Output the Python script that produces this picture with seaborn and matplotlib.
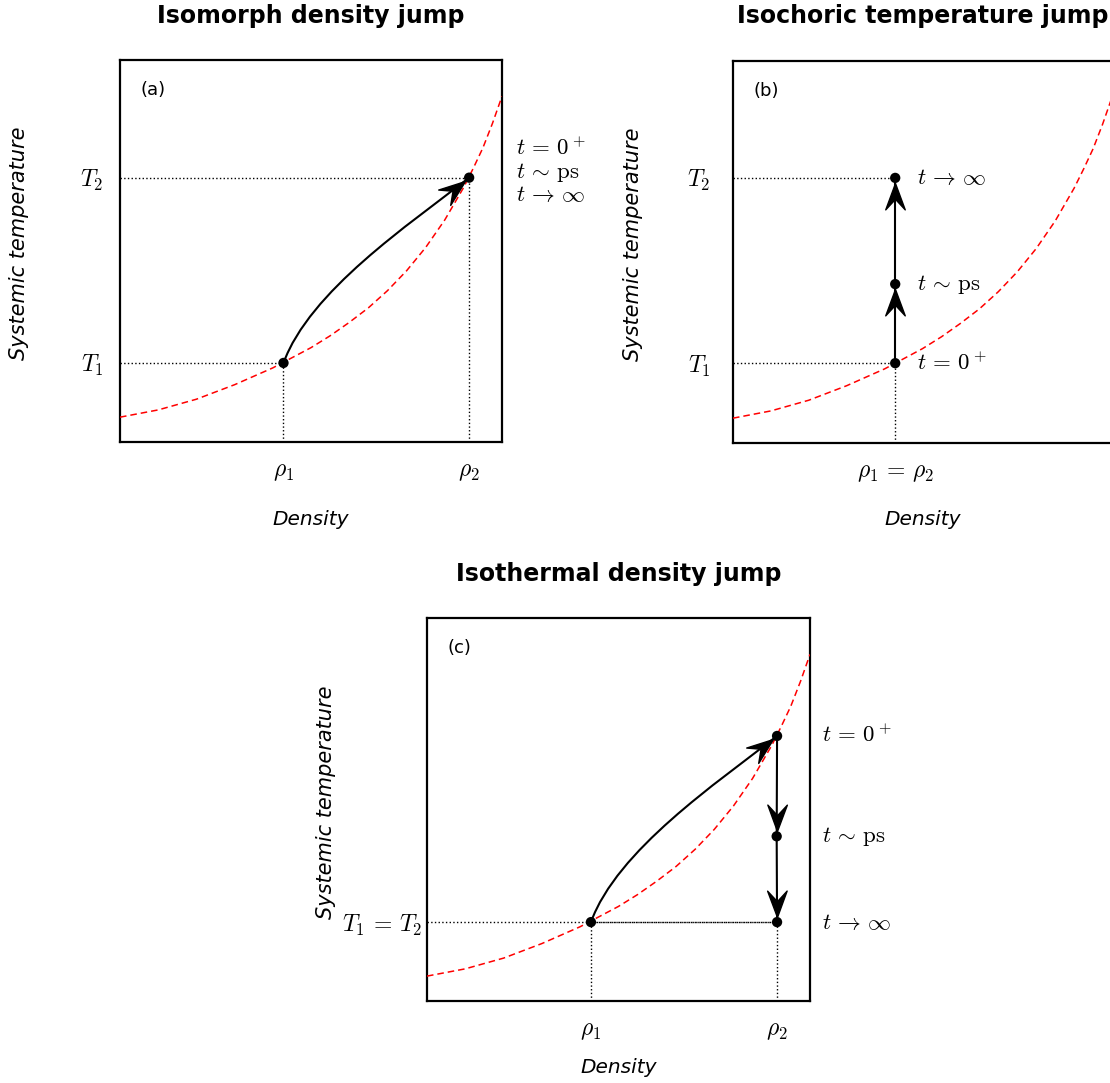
import numpy as np
import matplotlib
matplotlib.use("Agg")
import matplotlib.pyplot as plt
from matplotlib.path import Path
from matplotlib.patches import PathPatch
from matplotlib.markers import MarkerStyle
from matplotlib.transforms import Affine2D
import seaborn as sns

# ---------------- data (axis units 0..1) ----------------
iso_density = [0.0, 0.1, 0.2, 0.3, 0.4, 0.5, 0.55, 0.6, 0.65, 0.7, 0.75, 0.8,
               0.85, 0.9, 0.925, 0.95, 0.975, 1.0]
iso_temperature = [0.065, 0.084, 0.112, 0.150, 0.194, 0.247, 0.278, 0.313, 0.351,
                   0.396, 0.448, 0.509, 0.581, 0.667, 0.717, 0.770, 0.834, 0.905]

a_density = [0.428, 0.914]
a_temperature = [0.207, 0.692]
b_density = [0.428, 0.428, 0.428]
b_temperature = [0.209, 0.416, 0.694]
c_density = [0.428, 0.914, 0.913, 0.914]
c_temperature = [0.206, 0.692, 0.430, 0.206]

titles = ["Isomorph density jump", "Isochoric temperature jump", "Isothermal density jump"]
panel_tags = ["(a)", "(b)", "(c)"]
a_xticklabels = [r"$\rho_1$", r"$\rho_2$"]
a_yticklabels = [r"$T_1$", r"$T_2$"]
b_xticklabels = [r"$\rho_1\,=\,\rho_2$"]
b_yticklabels = [r"$T_1$", r"$T_2$"]
c_xticklabels = [r"$\rho_1$", r"$\rho_2$"]
c_yticklabels = [r"$T_1\,=\,T_2$"]
time_labels = [r"$t\,=\,0^+$", r"$t\,\sim\,\mathrm{ps}$", r"$t\,\to\,\infty$"]
xlabel_text = "Density"
ylabel_text = "Systemic temperature"

# ---------------- style ----------------
sns.set_theme(style="white")
plt.rcParams["font.family"] = ["DejaVu Sans"]
plt.rcParams["mathtext.fontset"] = "cm"
for key in ("text.color", "axes.labelcolor", "xtick.color", "ytick.color", "axes.edgecolor"):
    plt.rcParams[key] = "black"

fig = plt.figure(figsize=(11.1, 10.83), dpi=100)
W, H = 1110.0, 1083.0


def make_axes(left, top, w, h):
    return fig.add_axes([left / W, (H - top - h) / H, w / W, h / H])


ax_a = make_axes(120, 60, 382, 382)
ax_b = make_axes(733, 61, 379, 382)
ax_c = make_axes(427, 618, 383, 383)

HEAD_VERTS = [(0.0, 0.0), (-1.0, 0.37), (-0.6, 0.0), (-1.0, -0.37), (0.0, 0.0)]
HEAD_CODES = [Path.MOVETO, Path.LINETO, Path.LINETO, Path.LINETO, Path.CLOSEPOLY]
HEAD_PATH = Path(HEAD_VERTS, HEAD_CODES)
DOT_OFFSET = 5.0 / 382.0


def head(ax, target, angle_deg):
    th = np.radians(angle_deg)
    tip_x = target[0] - DOT_OFFSET * np.cos(th)
    tip_y = target[1] - DOT_OFFSET * np.sin(th)
    m = MarkerStyle(HEAD_PATH, transform=Affine2D().rotate_deg(angle_deg))
    ax.plot([tip_x], [tip_y], marker=m, markersize=38, color="black",
            markeredgecolor="black", markeredgewidth=1.0, linestyle="none", zorder=5)


def straight_arrow(ax, p0, p1):
    ax.plot([p0[0], p1[0]], [p0[1], p1[1]], color="black", lw=1.5, zorder=4)
    ang = np.degrees(np.arctan2(p1[1] - p0[1], p1[0] - p0[0]))
    head(ax, p1, ang)


def curved_arrow(ax, p0, p1, a0=70.0, a1=38.0, h=0.2):
    t0, t1 = np.radians(a0), np.radians(a1)
    c1 = (p0[0] + h * np.cos(t0), p0[1] + h * np.sin(t0))
    c2 = (p1[0] - h * np.cos(t1), p1[1] - h * np.sin(t1))
    path = Path([p0, c1, c2, p1], [Path.MOVETO, Path.CURVE4, Path.CURVE4, Path.CURVE4])
    ax.add_patch(PathPatch(path, fill=False, lw=1.5, ec="black", zorder=4))
    head(ax, p1, a1)


def guide(ax, xs, ys):
    ax.plot(xs, ys, linestyle=":", color="black", lw=1.0, zorder=2)


def base_panel(ax, title, tag, xt, xtl, yt, ytl, xpad, ypad, xlab_y):
    sns.lineplot(x=iso_density, y=iso_temperature, color="red", linewidth=1.1,
                 linestyle=(0, (4.3, 2.6)), ax=ax, zorder=3)
    ax.set_xlim(0, 1)
    ax.set_ylim(0, 1)
    ax.set_xticks(xt)
    ax.set_xticklabels(xtl)
    ax.set_yticks(yt)
    ax.set_yticklabels(ytl)
    ax.tick_params(axis="x", length=0, pad=xpad, labelsize=17)
    ax.tick_params(axis="y", length=0, pad=ypad, labelsize=17)
    for s in ax.spines.values():
        s.set_color("black")
        s.set_linewidth(1.6)
        s.set_visible(True)
    ax.set_title(title, fontsize=17, fontweight="bold", pad=27)
    ax.text(0.054, 0.922, tag, transform=ax.transAxes, fontsize=13,
            ha="left", va="center")
    ax.set_xlabel(xlabel_text, fontsize=14.5, style="italic")
    ax.set_ylabel(ylabel_text, fontsize=15, style="italic")
    ax.xaxis.set_label_coords(0.5, xlab_y)
    ax.yaxis.set_label_coords(-0.238, 0.52)


# ---------------- panel (a) ----------------
base_panel(ax_a, titles[0], panel_tags[0], a_density, a_xticklabels,
           a_temperature, a_yticklabels, 12, 12, -0.178)
for x, y in zip(a_density, a_temperature):
    guide(ax_a, [0, x], [y, y])
    guide(ax_a, [x, x], [0, y])
curved_arrow(ax_a, (a_density[0], a_temperature[0]), (a_density[1], a_temperature[1]))
sns.scatterplot(x=a_density, y=a_temperature, color="black", s=55,
                edgecolor="none", ax=ax_a, zorder=6)
for lab, yb in zip(time_labels, [0.7513, 0.6911, 0.6309]):
    ax_a.text(1.037, yb, lab, transform=ax_a.transAxes, fontsize=16.5,
              ha="left", va="baseline")

# ---------------- panel (b) ----------------
base_panel(ax_b, titles[1], panel_tags[1], [b_density[0]], b_xticklabels,
           [b_temperature[0], b_temperature[2]], b_yticklabels, 12, 16, -0.175)
guide(ax_b, [0, b_density[0]], [b_temperature[0]] * 2)
guide(ax_b, [0, b_density[2]], [b_temperature[2]] * 2)
guide(ax_b, [b_density[0]] * 2, [0, b_temperature[0]])
for i in range(2):
    straight_arrow(ax_b, (b_density[i], b_temperature[i]),
                   (b_density[i + 1], b_temperature[i + 1]))
sns.scatterplot(x=b_density, y=b_temperature, color="black", s=55,
                edgecolor="none", ax=ax_b, zorder=6)
for lab, x, y in zip(time_labels, b_density, b_temperature):
    ax_b.text(x + 0.057, y, lab, fontsize=16.5, ha="left", va="center")

# ---------------- panel (c) ----------------
base_panel(ax_c, titles[2], panel_tags[2], [c_density[0], c_density[1]], c_xticklabels,
           [c_temperature[0]], c_yticklabels, 12, 3.5, -0.149)
guide(ax_c, [0, c_density[3]], [c_temperature[0]] * 2)
guide(ax_c, [c_density[0], c_density[3]], [c_temperature[0]] * 2)
guide(ax_c, [c_density[0]] * 2, [0, c_temperature[0]])
guide(ax_c, [c_density[3]] * 2, [0, c_temperature[3]])
curved_arrow(ax_c, (c_density[0], c_temperature[0]), (c_density[1], c_temperature[1]))
for i in (1, 2):
    straight_arrow(ax_c, (c_density[i], c_temperature[i]),
                   (c_density[i + 1], c_temperature[i + 1]))
sns.scatterplot(x=c_density, y=c_temperature, color="black", s=55,
                edgecolor="none", ax=ax_c, zorder=6)
for lab, y in zip(time_labels, c_temperature[1:]):
    ax_c.text(1.031, y, lab, transform=ax_c.get_yaxis_transform(), fontsize=16.5,
              ha="left", va="center")

fig.savefig("out.png", dpi=100)
